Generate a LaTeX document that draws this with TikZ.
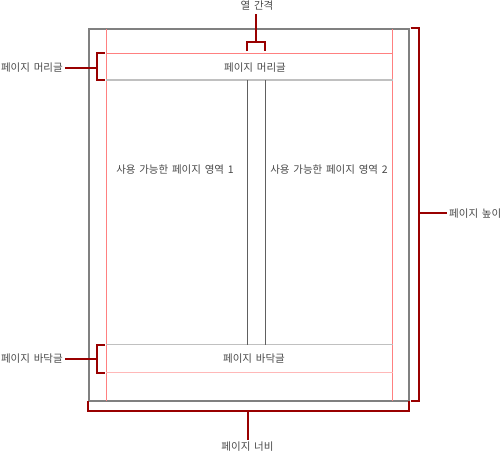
\documentclass[tikz,border=0pt]{standalone}
\usepackage{fontspec}
\setmainfont{Noto Sans CJK KR}[WordSpace={1.6}]
\usetikzlibrary{calc}
\definecolor{brkred}{HTML}{990000}
\definecolor{pagegray}{HTML}{808080}
\definecolor{marginred}{HTML}{FF8080}
\definecolor{footpink}{HTML}{FFB8B8}
\definecolor{bandgray}{HTML}{C0C0C0}
\definecolor{colgray}{HTML}{606060}
\definecolor{txtgray}{HTML}{484848}

\begin{document}
\begin{tikzpicture}[x=1pt,y=-1pt,
  pageedge/.style={draw=pagegray,line width=1.4pt},
  margin/.style={draw=marginred,line width=0.8pt},
  band/.style={draw=bandgray,line width=1.4pt},
  colline/.style={draw=colgray,line width=0.7pt},
  bracket/.style={draw=brkred,line width=2pt,line join=miter},
  lbl/.style={font=\fontsize{10.5}{11}\selectfont,text=txtgray,inner sep=2pt}]
\useasboundingbox (0,0) rectangle (504,453);
% page and guides
\coordinate[] (pgNW) at (89,29);
\coordinate[] (pgSE) at (409,401);
\draw[pageedge] (pgNW) rectangle (pgSE);
\foreach \x in {106.3,392.7}
	\draw[margin] (\x,29) -- (\x,401);
\draw[margin] (106.3,53.3) -- (392.7,53.3);
\draw[band] (106.3,80) -- (392.7,80);
\draw[band] (106.3,344.7) -- (392.7,344.7);
\draw[margin,draw=footpink] (106.3,372.7) -- (392.7,372.7);
\foreach \x in {247.3,265.3}
	\draw[colline] (\x,80) -- (\x,344.7);
% texts inside the page
\node[lbl] (hdrtxt) at (255,68) {페이지 머리글};
\node[lbl] (ftrtxt) at (254,359) {페이지 바닥글};
\node[lbl] (area1) at (175,170) {사용 가능한 페이지 영역 1};
\node[lbl] (area2) at (329,170) {사용 가능한 페이지 영역 2};
% labels outside
\node[lbl] (gaplbl) at (257,6) {열 간격};
\node[lbl,anchor=east] (hdrlbl) at (65,67.7) {페이지 머리글};
\node[lbl,anchor=east] (ftrlbl) at (65,359) {페이지 바닥글};
\node[lbl,anchor=west] (hgtlbl) at (447,213.3) {페이지 높이};
\node[lbl] (wdtlbl) at (247.5,447) {페이지 너비};
% bracket tips
\coordinate[] (gapS) at (256.3,42);
\coordinate[] (gapT) at (256.3,14);
\coordinate[] (hdrB) at (97,67.7);
\coordinate[] (ftrB) at (97,359);
\coordinate[] (hgtB) at (418.5,213.3);
\coordinate[] (wdtB) at (247.5,411);
\coordinate[] (wdtT) at (247.5,439.5);
\draw[bracket] (247.3,51) -- (247.3,42) -- (265.3,42) -- (265.3,51);
\draw[bracket] (gapT) -- (gapS);
\draw[bracket] (105,53.3) -- (97,53.3) -- (97,80) -- (105,80);
\draw[bracket] (hdrlbl.east) -- (hdrB);
\draw[bracket] (105,344.7) -- (97,344.7) -- (97,372.7) -- (105,372.7);
\draw[bracket] (ftrlbl.east) -- (ftrB);
\draw[bracket] (410.7,28) -- (418.5,28) -- (418.5,401.3) -- (410.7,401.3);
\draw[bracket] (hgtB) -- (hgtlbl.west);
\draw[bracket] (88.3,401) -- (88.3,411) -- (409,411) -- (409,401);
\draw[bracket] (wdtB) -- (wdtT);
\end{tikzpicture}
\end{document}
